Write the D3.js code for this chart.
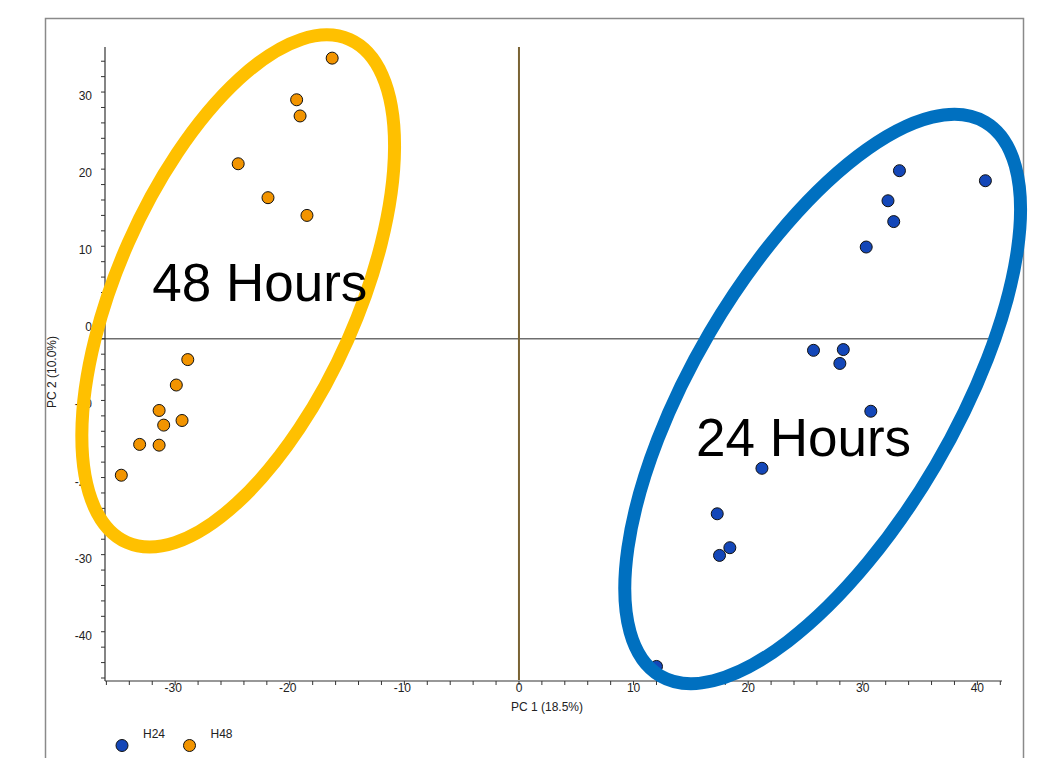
<!DOCTYPE html>
<html>
<head>
<meta charset="utf-8">
<script src="https://cdn.jsdelivr.net/npm/d3@7"></script>
<style>
  html, body { margin: 0; padding: 0; background: #fff; }
  svg { display: block; font-family: "Liberation Sans", Arial, sans-serif; }
</style>
</head>
<body>
<svg id="chart" width="1037" height="758"></svg>
<script>
// PCA scores: PC 1 and PC 2 for each sample group
const groups = ["H24", "H48"];
const h24PC1 = [33.2, 40.7, 32.2, 32.7, 30.3, 25.7, 28.3, 28.0, 30.7, 21.2, 17.3, 18.4, 17.5, 12.0];
const h24PC2 = [19.8, 18.5, 15.9, 13.2, 9.9, -3.5, -3.4, -5.2, -11.4, -18.8, -24.7, -29.1, -30.1, -44.5];
const h48PC1 = [-16.3, -19.4, -19.1, -24.5, -21.9, -18.5, -28.9, -29.9, -31.4, -29.4, -31.0, -33.1, -31.4, -34.7];
const h48PC2 = [34.4, 29.0, 26.9, 20.7, 16.3, 14.0, -4.7, -8.0, -11.3, -12.6, -13.2, -15.7, -15.8, -19.7];
const xTicks = [-30, -20, -10, 0, 10, 20, 30, 40];
const yTicks = [-40, -30, -20, -10, 0, 10, 20, 30];
const xLabel = "PC 1 (18.5%)";
const yLabel = "PC 2 (10.0%)";
const clusterNames = ["48 Hours", "24 Hours"];

const colors = { H24: "#1447b8", H48: "#f29400" };

const svg = d3.select("#chart");

// panel frame
svg.append("path")
  .attr("d", "M45.5,770 V18.5 H1023.5 V770")
  .attr("fill", "none")
  .attr("stroke", "#8a8a8a")
  .attr("stroke-width", 1.5);

const x = d3.scaleLinear().domain([-36, 42]).range([106.4, 1000.3]);
const y = d3.scaleLinear().domain([-46, 36]).range([678, 45.8]);

// reference lines through the score plot
svg.append("line")
  .attr("x1", 100).attr("x2", 1000)
  .attr("y1", y(-2)).attr("y2", y(-2))
  .attr("stroke", "#6e6e6e").attr("stroke-width", 1.5);
svg.append("line")
  .attr("x1", x(0)).attr("x2", x(0))
  .attr("y1", 47).attr("y2", 680)
  .attr("stroke", "#7a6434").attr("stroke-width", 2);

// axes
const minorX = d3.range(-36, 43, 2);
const minorY = d3.range(-46, 35, 2);

const xAxisY = 681;
const gx = svg.append("g").attr("transform", `translate(0,${xAxisY})`);
gx.append("line").attr("x1", 105).attr("x2", 1002)
  .attr("stroke", "#333").attr("stroke-width", 1.2);
gx.selectAll("line.tick").data(minorX).join("line")
  .attr("class", "tick")
  .attr("x1", d => x(d)).attr("x2", d => x(d))
  .attr("y1", 0).attr("y2", 4)
  .attr("stroke", "#333").attr("stroke-width", 1);
gx.selectAll("text").data(xTicks).join("text")
  .attr("x", d => x(d) - (d < 0 ? 2 : 0))
  .attr("y", 11)
  .attr("text-anchor", "middle")
  .attr("font-size", 12)
  .attr("fill", "#222")
  .text(d => d);

const yAxisX = 105;
const gy = svg.append("g").attr("transform", `translate(${yAxisX},0)`);
gy.append("line").attr("y1", 47).attr("y2", xAxisY)
  .attr("stroke", "#333").attr("stroke-width", 1.2);
gy.selectAll("line.tick").data(minorY).join("line")
  .attr("class", "tick")
  .attr("y1", d => y(d)).attr("y2", d => y(d))
  .attr("x1", -4).attr("x2", 0)
  .attr("stroke", "#333").attr("stroke-width", 1);
gy.selectAll("text").data(yTicks).join("text")
  .attr("x", -13)
  .attr("y", d => y(d) + 8)
  .attr("text-anchor", "end")
  .attr("font-size", 12)
  .attr("fill", "#222")
  .text(d => d);

// axis titles
svg.append("text")
  .attr("x", 547).attr("y", 711)
  .attr("text-anchor", "middle")
  .attr("font-size", 12).attr("fill", "#222")
  .text(xLabel);
svg.append("text")
  .attr("transform", `translate(56,372) rotate(-90)`)
  .attr("text-anchor", "middle")
  .attr("font-size", 12).attr("fill", "#222")
  .text(yLabel);

// sample points
const points = [
  ...h24PC1.map((v, i) => ({ g: "H24", pc1: v, pc2: h24PC2[i] })),
  ...h48PC1.map((v, i) => ({ g: "H48", pc1: v, pc2: h48PC2[i] }))
];
svg.append("g").selectAll("circle").data(points).join("circle")
  .attr("cx", d => x(d.pc1))
  .attr("cy", d => y(d.pc2))
  .attr("r", 6)
  .attr("fill", d => colors[d.g])
  .attr("stroke", "#111")
  .attr("stroke-width", 1);

// cluster outlines and names
const outlines = [
  { name: clusterNames[0], cx: -24.5, cy: 4.2, a: 275, b: 120, angle: 23.9, color: "#ffc000", tx: -32.0, ty: 2.9 },
  { name: clusterNames[1], cx: 26.5, cy: -9.8, a: 321, b: 131, angle: 30.4, color: "#0070c0", tx: 15.45, ty: -17.2 }
];
const og = svg.append("g");
og.selectAll("ellipse").data(outlines).join("ellipse")
  .attr("transform", d => `translate(${x(d.cx)},${y(d.cy)}) rotate(${d.angle})`)
  .attr("rx", d => d.b)
  .attr("ry", d => d.a)
  .attr("fill", "none")
  .attr("stroke", d => d.color)
  .attr("stroke-width", 13);
og.selectAll("text").data(outlines).join("text")
  .attr("x", d => x(d.tx))
  .attr("y", d => y(d.ty))
  .attr("font-size", 53)
  .attr("fill", "#000")
  .text(d => d.name);

// legend
const lg = svg.append("g");
groups.forEach((g, i) => {
  const lx = 122 + i * 67.5;
  lg.append("circle").attr("cx", lx).attr("cy", 745.5).attr("r", 6)
    .attr("fill", colors[g]).attr("stroke", "#111").attr("stroke-width", 1);
  lg.append("text").attr("x", lx + 21).attr("y", 737.5)
    .attr("font-size", 12).attr("fill", "#222").text(g);
});
</script>
</body>
</html>
